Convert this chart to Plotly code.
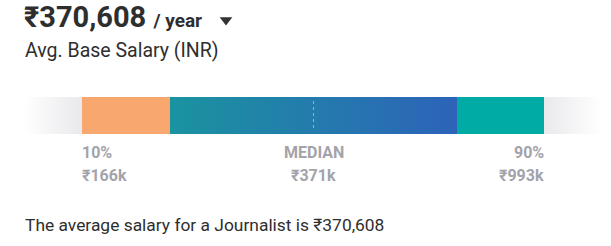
import plotly.graph_objects as go

# ---- data ----
percentile_labels = ["10%", "MEDIAN", "90%"]
percentile_values_k = [166, 371, 993]
avg_salary = 370608
job_title = "Journalist"
period_label = "/ year"
subtitle = "Avg. Base Salary (INR)"

# ---- layout constants (pixel space) ----
W, H = 611, 246
SEG = [82, 170, 457, 544]
BAR_Y = [97, 134]
FADE = [24, 602]
FONT = "Roboto, 'Noto Sans', sans-serif"
DARK = "#2e2e2e"
LABEL_GREY = "#a3a3ab"

fig = go.Figure()


def rect(x0, x1, **kw):
    y0, y1 = BAR_Y
    fig.add_trace(go.Scatter(
        x=[x0, x1, x1, x0, x0], y=[y0, y0, y1, y1, y0],
        fill="toself", mode="none", hoverinfo="skip", showlegend=False, **kw))


# side fades
rect(FADE[0], SEG[0], fillgradient=dict(type="horizontal",
     colorscale=[[0, "#ffffff"], [1, "#e9e9ec"]]))
rect(SEG[3], FADE[1], fillgradient=dict(type="horizontal",
     colorscale=[[0, "#e9e9ec"], [1, "#ffffff"]]))
# 10%-25% segment
rect(SEG[0], SEG[1], fillcolor="#f8a76f")
# middle gradient
rect(SEG[1], SEG[2], fillgradient=dict(type="horizontal",
     colorscale=[[0, "#1a93a0"], [1, "#2d63b9"]]))
# 75%-90% segment
rect(SEG[2], SEG[3], fillcolor="#00aaa5")

# median dashed line
mid_x = (SEG[1] + SEG[2]) / 2
fig.add_trace(go.Scatter(
    x=[mid_x, mid_x], y=[BAR_Y[0] + 4, BAR_Y[1] - 6], mode="lines",
    line=dict(color="rgba(255,255,255,0.45)", width=1, dash="3px,3px"),
    hoverinfo="skip", showlegend=False))

# dropdown triangle
fig.add_trace(go.Scatter(
    x=[226], y=[20], mode="markers",
    marker=dict(symbol="triangle-down", size=11, color="#333333", line=dict(width=0)),
    hoverinfo="skip", showlegend=False))

annotations = []
label_x = [SEG[0], mid_x, SEG[3]]
anchors = ["left", "center", "right"]
common = dict(showarrow=False, borderpad=0, borderwidth=0)
for lab, val, x, anc in zip(percentile_labels, percentile_values_k, label_x, anchors):
    annotations.append(dict(x=x, y=152, text=f"<b>{lab}</b>", xanchor=anc, yanchor="middle",
                            font=dict(family=FONT, size=16, color=LABEL_GREY), **common))
    annotations.append(dict(x=x, y=175, text=f"<b>₹{val}k</b>", xanchor=anc, yanchor="middle",
                            font=dict(family=FONT, size=16, color=LABEL_GREY), **common))

annotations.append(dict(
    x=24, y=17, xanchor="left", yanchor="middle",
    text=f"<b>₹{avg_salary:,}</b> <span style='font-size:19px'><b>{period_label}</b></span>",
    font=dict(family=FONT, size=29, color=DARK), **common))
annotations.append(dict(
    x=25, y=50, xanchor="left", yanchor="middle", text=subtitle,
    font=dict(family=FONT, size=19.5, color=DARK), **common))
annotations.append(dict(
    x=25, y=225, xanchor="left", yanchor="middle",
    text=f"The average salary for a {job_title} is ₹{avg_salary:,}",
    font=dict(family=FONT, size=17.4, color=DARK), **common))

fig.update_layout(
    width=W, height=H, margin=dict(l=0, r=0, t=0, b=0),
    paper_bgcolor="white", plot_bgcolor="white",
    xaxis=dict(range=[0, W], visible=False, fixedrange=True),
    yaxis=dict(range=[H, 0], visible=False, fixedrange=True),
    annotations=annotations, showlegend=False)

fig.write_html("out.html")
